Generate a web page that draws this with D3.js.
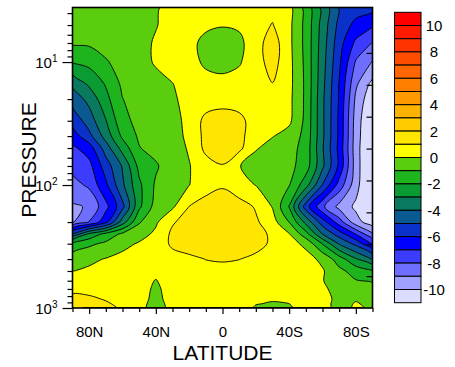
<!DOCTYPE html>
<html>
<head>
<meta charset="utf-8">
<script src="https://cdn.jsdelivr.net/npm/d3@7"></script>
<style>
  body { margin: 0; background: #fff; }
  svg { display: block; font-family: "Liberation Sans", Arial, Helvetica, sans-serif; }
</style>
</head>
<body>
<svg id="chart" width="455" height="367"></svg>
<script>
// grid columns: latitude, north to south
const lats = [90, 80, 70, 60, 50, 40, 30, 20, 10, 0, -10, -20, -30, -40, -50, -60, -70, -80, -90];
// grid rows: pressure (hPa), top of plot to bottom
const levels = [3.6, 5, 7, 10, 15, 20, 30, 40, 50, 70, 100, 150, 200, 250, 300, 400, 500, 600, 700, 850, 925, 1000];

// field values, one row per pressure level (same order as levels)
const field = [
  [-0.6, -0.55, -0.45, -0.4, -0.3, -0.1, 0.3, 0.5, 0.5, 0.5, 0.45, 0.3, 0.7, 0.3, -1.4, -3.3, -5.1, -5.5, -5.7],
  [-0.7, -0.65, -0.5, -0.4, -0.3, -0.05, 0.35, 0.5, 0.2, 0.05, 0.15, 0.6, 1.05, 0.25, -1.3, -3.4, -5.3, -6.3, -6.9],
  [-0.9, -0.85, -0.6, -0.45, -0.3, 0.1, 0.4, 0.3, -0.3, -0.4, -0.25, 0.6, 1.5, 0.25, -1.3, -3.5, -5.6, -7.2, -8.05],
  [-1.95, -1.7, -1.1, -0.6, -0.35, 0.1, 0.4, 0.4, -0.2, -0.35, -0.1, 0.6, 1.4, 0.3, -1.25, -3.6, -5.8, -8.1, -9.05],
  [-3.8, -2.8, -1.9, -0.8, -0.5, -0.3, -0.02, 0.4, 0.4, 0.3, 0.4, 0.65, 0.98, 0.3, -1.2, -3.7, -6.05, -8.8, -10.3],
  [-4.6, -3.7, -2.3, -1.02, -0.6, -0.35, -0.15, 0.35, 0.45, 0.5, 0.5, 0.55, 0.6, 0.25, -1.2, -3.8, -6.1, -9.2, -10.8],
  [-5.7, -4.5, -3.05, -1.3, -0.7, -0.4, -0.3, 0.25, 1.3, 1.6, 1.3, 0.5, 0.3, 0.2, -1.25, -3.8, -6.2, -9.45, -11.2],
  [-6.5, -5.3, -3.6, -1.8, -0.85, -0.5, -0.35, 0.2, 1.3, 1.6, 1.3, 0.4, 0.05, -0.4, -1.3, -3.8, -6.2, -9.5, -11.3],
  [-7.2, -6.5, -4.5, -2.6, -1.05, -0.6, -0.45, 0.1, 1.25, 1.5, 1.25, 0.1, -0.4, -0.6, -1.4, -3.9, -6.3, -9.55, -11.4],
  [-7.7, -7.3, -5.5, -3.9, -1.7, -1.15, -0.3, -0.05, 0.6, 0.95, 0.05, -0.5, -0.65, -0.7, -1.5, -3.8, -6.2, -9.5, -11.5],
  [-8.4, -7.8, -6.2, -4.2, -2.2, -0.85, -0.4, -0.02, 0.6, 0.9, 0.3, -0.02, -0.4, -0.95, -2.6, -5.05, -7.4, -9.6, -11.5],
  [-9.15, -8.9, -7.3, -5.3, -2.2, -0.6, -0.15, 1.02, 1.4, 1.5, 1.45, 0.9, -0.05, -2.05, -5.5, -7.8, -9.3, -10.2, -11.2],
  [-9.1, -7.95, -6.3, -3.5, -1.1, -0.15, 0.9, 1.4, 1.6, 1.7, 1.6, 1.15, 0.4, -1.02, -3.3, -5.5, -7.5, -9.6, -10.6],
  [-5.05, -2.8, -1.7, -0.8, -0.4, 0.2, 1.2, 1.5, 1.7, 1.75, 1.7, 1.3, 0.85, 0.05, -1.6, -4.05, -5.5, -7.05, -8.9],
  [-1.8, -1.2, -0.8, -0.3, 0.1, 0.5, 1.15, 1.45, 1.6, 1.7, 1.6, 1.3, 0.85, 0.4, -0.25, -2.05, -4.1, -5.3, -7.1],
  [-0.45, -0.2, 0.05, 0.3, 0.45, 0.5, 0.7, 0.8, 1.02, 1.1, 1.02, 0.8, 0.6, 0.5, 0.4, -0.25, -1.5, -2.9, -4.05],
  [-0.02, 0.15, 0.3, 0.4, 0.5, 0.3, 0.6, 0.65, 0.7, 0.7, 0.65, 0.6, 0.55, 0.5, 0.5, 0.1, -0.75, -1.4, -1.95],
  [0.4, 0.45, 0.5, 0.5, 0.45, -0.05, 0.5, 0.6, 0.65, 0.65, 0.6, 0.55, 0.5, 0.55, 0.6, 0.05, -0.6, -0.95, -1.1],
  [0.8, 0.75, 0.6, 0.5, 0.45, -0.2, 0.45, 0.55, 0.6, 0.6, 0.6, 0.5, 0.45, 0.5, 0.6, 0.2, -0.4, -0.6, -0.7],
  [1.2, 1.15, 0.95, 0.6, 0.4, -0.3, 0.4, 0.5, 0.55, 0.55, 0.55, 0.4, 0.1, 0.3, 0.6, 0.4, -0.3, -0.1, -0.4],
  [1.3, 1.3, 1.1, 0.8, 0.35, -0.4, 0.35, 0.45, 0.5, 0.5, 0.5, 0.05, -0.1, -0.02, 0.55, 0.5, -0.5, 0.1, -0.3],
  [1.25, 1.3, 1.2, 0.9, 0.3, -0.5, 0.3, 0.45, 0.5, 0.5, 0.5, -0.15, -0.3, -0.2, 0.5, 0.6, -0.6, 0.2, -0.2]
];

const contourLevels = [-10, -9, -8, -7, -6, -5, -4, -3, -2, -1, 0, 1, 2, 3, 4, 5, 6, 7, 8, 9, 10];
// fill colours, lowest band (< -10) first
const bandColors = ["#DCDCFF", "#A0A0FF", "#6E6EFF", "#3C3CFF", "#0000FF", "#0A32C8", "#0A5A91", "#0A7A5F",
  "#0A9B32", "#1EB41E", "#5ACD0F", "#FFFF00", "#FFE600", "#FFCC00", "#FFB300", "#FF9900", "#FF8000",
  "#FF6600", "#FF4D00", "#FF3300", "#FF1A00", "#FF0000"];
const cbLabels = ["10", "8", "6", "4", "2", "0", "-2", "-4", "-6", "-8", "-10"];

const latMajor = [80, 40, 0, -40, -80];
const latLabels = ["80N", "40N", "0", "40S", "80S"];
const latMinor = [90, 70, 60, 50, 30, 20, 10, -10, -20, -30, -50, -60, -70, -90];
const presMajor = [10, 100, 1000];
const presExp = ["1", "2", "3"];
const presMinor = [4, 5, 6, 7, 8, 9, 20, 30, 40, 50, 60, 70, 80, 90, 200, 300, 400, 500, 600, 700, 800, 900];
const heightTicks = [4, 8, 12, 16, 20, 24, 28, 32]; // km, right axis

const svg = d3.select("#chart");
const plot = { left: 72.5, right: 372.5, top: 7.5, bottom: 308 };

const x = d3.scaleLinear().domain([90, -90]).range([plot.left, plot.right]);
const y = d3.scaleLog().domain([1000, 3.6]).range([plot.bottom, plot.top]);

const nx = lats.length, ny = levels.length;
const values = field.flat();

// contour grid coords -> data coords
function gridLat(u) {
  const t = Math.max(0, Math.min(nx - 1, u - 0.5));
  const i = Math.min(nx - 2, Math.floor(t)), f = t - i;
  return lats[i] + f * (lats[i + 1] - lats[i]);
}
function gridLevel(v) {
  const t = Math.max(0, Math.min(ny - 1, v - 0.5));
  const j = Math.min(ny - 2, Math.floor(t)), f = t - j;
  const a = Math.log(levels[j]), b = Math.log(levels[j + 1]);
  return Math.exp(a + f * (b - a));
}

const smooth = d3.line().curve(d3.curveCatmullRomClosed.alpha(0.5));
function ringPath(ring) {
  const pts = [];
  ring.forEach(([u, v]) => {
    const p = [x(gridLat(u)), y(gridLevel(v))];
    const last = pts[pts.length - 1];
    if (!last || Math.abs(last[0] - p[0]) + Math.abs(last[1] - p[1]) > 0.05) pts.push(p);
  });
  if (pts.length > 2) {
    const a = pts[0], b = pts[pts.length - 1];
    if (Math.abs(a[0] - b[0]) + Math.abs(a[1] - b[1]) < 0.05) pts.pop();
  }
  return smooth(pts);
}
function multiPath(mp) {
  return mp.coordinates.map(poly => poly.map(ringPath).join("")).join("");
}

svg.append("defs").append("clipPath").attr("id", "clip")
  .append("rect")
  .attr("x", plot.left).attr("y", plot.top)
  .attr("width", plot.right - plot.left).attr("height", plot.bottom - plot.top);

const g = svg.append("g").attr("clip-path", "url(#clip)");
g.append("rect")
  .attr("x", plot.left).attr("y", plot.top)
  .attr("width", plot.right - plot.left).attr("height", plot.bottom - plot.top)
  .attr("fill", bandColors[0]);

const polys = d3.contours().size([nx, ny]).thresholds(contourLevels)(values);

g.selectAll("path.band")
  .data(polys)
  .join("path")
  .attr("class", "band")
  .attr("d", multiPath)
  .attr("fill", (d, i) => bandColors[i + 1])
  .attr("fill-rule", "evenodd");

g.selectAll("path.cline")
  .data(polys)
  .join("path")
  .attr("class", "cline")
  .attr("d", multiPath)
  .attr("fill", "none")
  .attr("stroke", "#000")
  .attr("stroke-width", 0.9);

// axes
const fs = 15;
const xMinorAxis = svg.append("g").attr("transform", `translate(0,${plot.bottom})`)
  .call(d3.axisBottom(x).tickValues(latMinor).tickSize(4).tickFormat(""));
const xAxis = svg.append("g").attr("transform", `translate(0,${plot.bottom})`)
  .call(d3.axisBottom(x).tickValues(latMajor).tickSize(6).tickFormat((d, i) => latLabels[i]));
xAxis.selectAll("text").attr("y", 29).attr("dy", null)
  .attr("font-size", fs).attr("font-family", "Liberation Sans, Arial, sans-serif").attr("fill", "#000");

const yMinorAxis = svg.append("g").attr("transform", `translate(${plot.left},0)`)
  .call(d3.axisLeft(y).tickValues(presMinor).tickSize(5).tickFormat(""));
const yAxis = svg.append("g").attr("transform", `translate(${plot.left},0)`)
  .call(d3.axisLeft(y).tickValues(presMajor).tickSize(10).tickPadding(5).tickFormat(""));
yAxis.selectAll(".tick text")
  .attr("font-size", fs).attr("font-family", "Liberation Sans, Arial, sans-serif").attr("fill", "#000")
  .attr("dy", "0.38em")
  .each(function (d, i) {
    const t = d3.select(this);
    t.append("tspan").text("10");
    t.append("tspan").attr("font-size", 10).attr("dy", "-0.6em").text(presExp[i]);
  });

// right axis: height ticks drawn inward, scale height 6.7 km
const H = 6.7;
const yRight = svg.append("g").attr("transform", `translate(${plot.right},0)`)
  .call(d3.axisLeft(y).tickValues(heightTicks.map(z => 1000 * Math.exp(-z / H))).tickSize(6).tickFormat(""));

[xMinorAxis, xAxis, yMinorAxis, yAxis, yRight].forEach(a => {
  a.select(".domain").remove();
  a.selectAll("line").attr("stroke", "#000").attr("stroke-width", 1.2);
});

// frame
svg.append("rect")
  .attr("x", plot.left).attr("y", plot.top)
  .attr("width", plot.right - plot.left).attr("height", plot.bottom - plot.top)
  .attr("fill", "none").attr("stroke", "#000").attr("stroke-width", 1.6);

// axis titles
svg.append("text")
  .attr("x", (plot.left + plot.right) / 2).attr("y", 360)
  .attr("text-anchor", "middle").attr("font-size", 21).text("LATITUDE");
svg.append("text")
  .attr("transform", `translate(36,160) rotate(-90)`)
  .attr("text-anchor", "middle").attr("font-size", 21).text("PRESSURE");

// colour bar
const nBox = bandColors.length;
const cb = d3.scaleBand().domain(d3.range(nBox)).range([12.3, 302.7]);
const cbX = 394.5, cbW = 26.5;
const cbg = svg.append("g");
cbg.selectAll("rect")
  .data(bandColors.slice().reverse())
  .join("rect")
  .attr("x", cbX).attr("y", (d, i) => cb(i))
  .attr("width", cbW).attr("height", cb.bandwidth())
  .attr("fill", d => d)
  .attr("stroke", "#000").attr("stroke-width", 1);
cbg.selectAll("text")
  .data(cbLabels)
  .join("text")
  .attr("x", 434)
  .attr("y", (d, i) => cb(1 + 2 * i))
  .attr("dy", "0.36em")
  .attr("text-anchor", "middle")
  .attr("font-size", fs)
  .text(d => d);
</script>
</body>
</html>
